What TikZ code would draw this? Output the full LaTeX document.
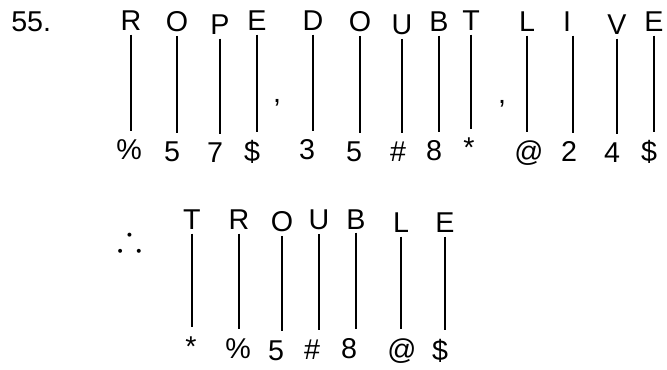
\documentclass[tikz,border=0pt]{standalone}
\usepackage{amssymb}
\usepackage{fontspec}
\setmainfont{Liberation Sans}

\begin{document}
\begin{tikzpicture}[x=0.75pt,y=-0.75pt,
  font=\fontsize{21.5}{25}\selectfont,
  glyph/.style={anchor=base, inner sep=0pt},
  tie/.style={line width=1.5pt, shorten <=2.5pt, shorten >=6.5pt}]
\useasboundingbox (0,0) rectangle (667,370);
\node[glyph, anchor=base west] (num) at (11,32) {55.};
% first line: ROPE, DOUBT, LIVE
\node[glyph] (wR) at (131,31) {R};
\node[glyph] (wO) at (177,32) {O};
\node[glyph] (wP) at (220,35) {P};
\node[glyph] (wE) at (257,31) {E};
\node[glyph] (comA) at (277,103) {,};
\node[glyph] (wD) at (313,31) {D};
\node[glyph] (wOb) at (360,32) {O};
\node[glyph] (wU) at (402,35) {U};
\node[glyph] (wB) at (439,32) {B};
\node[glyph] (wT) at (471,31) {T};
\node[glyph] (comB) at (502,104) {,};
\node[glyph] (wL) at (527,32) {L};
\node[glyph] (wI) at (567,32) {I};
\node[glyph] (wV) at (617,35) {V};
\node[glyph] (wEb) at (654,32) {E};
\node[glyph] (cR) at (129,160) {\%};
\node[glyph] (cO) at (172,162) {5};
\node[glyph] (cP) at (215,163) {7};
\node[glyph] (cE) at (252,162) {\$};
\node[glyph] (cD) at (307,160) {3};
\node[glyph] (cOb) at (354,162) {5};
\node[glyph] (cU) at (398,162) {\#};
\node[glyph] (cB) at (434,161) {8};
\node[glyph] (cT) at (469,158) {*};
\node[glyph] (cL) at (529,162) {@};
\node[glyph] (cI) at (569,162) {2};
\node[glyph] (cV) at (612,163) {4};
\node[glyph] (cEb) at (649,162) {\$};
\draw[tie] (wR.south) -- (wR.south |- cR.north);
\draw[tie] (wO.south) -- (wO.south |- cO.north);
\draw[tie] (wP.south) -- (wP.south |- cP.north);
\draw[tie] (wE.south) -- (wE.south |- cE.north);
\draw[tie] (wD.south) -- (wD.south |- cD.north);
\draw[tie] (wOb.south) -- (wOb.south |- cOb.north);
\draw[tie] (wU.south) -- (wU.south |- cU.north);
\draw[tie] (wB.south) -- (wB.south |- cB.north);
\draw[tie] (wT.south) -- (wT.south |- cT.north);
\draw[tie] (wL.south) -- (wL.south |- cL.north);
\draw[tie] ([xshift=4.5pt]wI.south) -- ([xshift=4.5pt]wI.south |- cI.north);
\draw[tie] (wV.south) -- (wV.south |- cV.north);
\draw[tie] (wEb.south) -- (wEb.south |- cEb.north);
% second line: TROUBLE
\node[font=\fontsize{28}{32}\selectfont] (so) at (130,238) {$\therefore$};
\node[glyph] (tT) at (192,230) {T};
\node[glyph] (tR) at (239,230) {R};
\node[glyph] (tO) at (282,232) {O};
\node[glyph] (tU) at (319,230) {U};
\node[glyph] (tB) at (356,229) {B};
\node[glyph] (tL) at (401,233) {L};
\node[glyph] (tE) at (445,233) {E};
\node[glyph] (dT) at (191,356) {*};
\node[glyph] (dR) at (238,358) {\%};
\node[glyph] (dO) at (276,360) {5};
\node[glyph] (dU) at (312,359) {\#};
\node[glyph] (dB) at (349,358) {8};
\node[glyph] (dL) at (402,359) {@};
\node[glyph] (dE) at (440,360) {\$};
\draw[tie] (tT.south) -- (tT.south |- dT.north);
\draw[tie] (tR.south) -- (tR.south |- dR.north);
\draw[tie] (tO.south) -- (tO.south |- dO.north);
\draw[tie] (tU.south) -- (tU.south |- dU.north);
\draw[tie] (tB.south) -- (tB.south |- dB.north);
\draw[tie] (tL.south) -- (tL.south |- dL.north);
\draw[tie] (tE.south) -- (tE.south |- dE.north);
\end{tikzpicture}
\end{document}
